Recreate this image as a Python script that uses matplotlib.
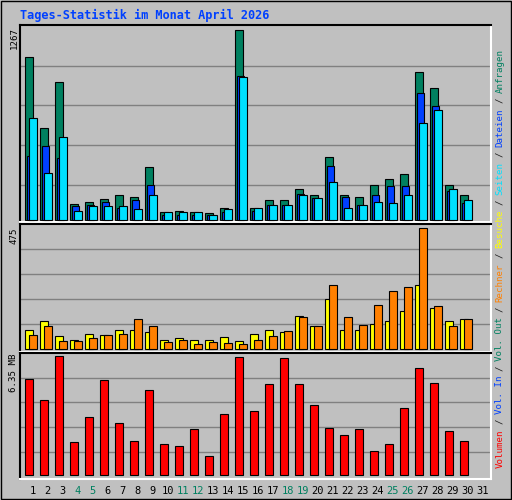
import matplotlib
matplotlib.use("Agg")
import matplotlib.pyplot as plt
from matplotlib.patches import Rectangle

days = list(range(1, 32))
hits  = [1090,617,918,108,126,141,168,155,354,55,62,55,49,82,1267,86,133,139,206,172,424,172,153,239,279,312,988,882,239,166,0]
files = [427,497,413,93,100,126,86,139,234,35,35,35,35,53,960,60,102,106,179,146,365,153,106,166,232,226,849,763,199,113,0]
pages = [683,318,553,66,93,93,93,73,168,53,53,53,33,73,955,80,106,106,172,146,259,86,100,126,119,172,650,736,206,139,0]
visits = [72,108,49,33,57,53,72,72,64,33,41,33,33,45,29,57,72,64,128,88,195,72,72,96,108,147,250,159,108,116,0]
sites  = [53,88,29,29,41,53,57,116,88,25,33,17,25,21,17,33,49,68,124,88,250,124,92,171,226,242,475,167,88,116,0]
volume = [5.16,4.04,6.35,1.76,3.14,5.11,2.82,1.86,4.58,1.65,1.54,2.50,1.01,3.25,6.33,3.46,4.90,6.28,4.90,3.78,2.55,2.13,2.50,1.28,1.65,3.62,5.75,4.95,2.39,1.86,0]
weekend = [4,5,11,12,18,19,25,26]
title = "Tages-Statistik im Monat April 2026"

C_HITS, C_FILES, C_PAGES = "#008060", "#0040FF", "#00E0FF"
C_VIS, C_SITES, C_VOL = "#FFFF00", "#FF8000", "#FF0000"
MONO = "DejaVu Sans Mono"

W, H = 512, 500
fig = plt.figure(figsize=(W/100, H/100), dpi=100, facecolor="#C0C0C0")
def fx(p): return p / W
def fy(p): return 1 - p / H

fig.add_artist(Rectangle((fx(1), fy(499)), fx(510), 498/H, transform=fig.transFigure,
                         fill=False, edgecolor="#000000", lw=1))

def mkax(top, bottom):
    ax = fig.add_axes([fx(20), fy(bottom), fx(491) - fx(20), (bottom - top) / H])
    ax.set_facecolor("#C0C0C0")
    ax.set_xlim(0, 471)
    ax.set_xticks([]); ax.set_yticks([])
    for s in ("top", "left"):
        ax.spines[s].set_color("black"); ax.spines[s].set_linewidth(1.5)
    for s in ("bottom", "right"):
        ax.spines[s].set_color("white"); ax.spines[s].set_linewidth(1.5)
    return ax

def bars(ax, off, vals, color, z):
    xs = [(d - 1) * 15 + off for d, v in zip(days, vals) if v > 0]
    hs = [v for v in vals if v > 0]
    ax.bar(xs, hs, 7.3, color=color, edgecolor="black", linewidth=0.8,
           align="edge", zorder=z)

# top panel
ax1 = mkax(25, 221.5)
ax1.set_ylim(-7, 1300)
for g in (234, 500, 765, 1030):
    ax1.axhline(g, color="#808080", lw=1, zorder=0)
bars(ax1, 5.3, hits, C_HITS, 2)
bars(ax1, 7.0, files, C_FILES, 3)
bars(ax1, 9.3, pages, C_PAGES, 4)

# middle panel
ax2 = mkax(224.3, 351.7)
ax2.set_ylim(-11.8, 491)
for g in (97.5, 196, 295, 392):
    ax2.axhline(g, color="#808080", lw=1, zorder=0)
bars(ax2, 5.3, visits, C_VIS, 2)
bars(ax2, 9.3, sites, C_SITES, 3)

# bottom panel
ax3 = mkax(352.5, 478.7)
ax3.set_ylim(-0.18, 6.56)
for g in (1.22, 2.56, 3.89, 5.22):
    ax3.axhline(g, color="#808080", lw=1, zorder=0)
bars(ax3, 5.3, volume, C_VOL, 2)

# day labels
for d in days:
    x = (d - 1) * 15 + 12.5
    ax3.text(x, -0.55, str(d), ha="center", va="top", fontsize=7.5, family=MONO,
             color=C_HITS if d in weekend else "black", clip_on=False)

# title
fig.text(fx(20), fy(15), title, ha="left", va="center", fontsize=8.6,
         family=MONO, weight="bold", color="#0040FF")

# left max labels
for txt, ytop in (("1267", 27), ("475", 227), ("6.35 MB", 354)):
    fig.text(fx(14), fy(ytop), txt, rotation=90, ha="center", va="top",
             fontsize=6.6, family=MONO, color="black")

# right legend text (bottom to top)
pieces = [("Volumen", C_VOL), (" / ", "#202020"), ("Vol. In", C_FILES), (" / ", "#202020"),
          ("Vol. Out", C_HITS), (" / ", "#202020"), ("Rechner", C_SITES), (" / ", "#202020"),
          ("Besuche", C_VIS), (" / ", "#202020"), ("Seiten", C_PAGES), (" / ", "#202020"),
          ("Dateien", C_FILES), (" / ", "#202020"), ("Anfragen", C_HITS)]
y = 467.0
cw = 5.35
for txt, col in pieces:
    n = len(txt)
    fig.text(fx(500), fy(y - cw * n / 2), txt.strip(), rotation=90, ha="center",
             va="center", fontsize=6.6, family=MONO, color=col)
    y -= cw * n

fig.savefig("out.png", dpi=100, facecolor=fig.get_facecolor())
